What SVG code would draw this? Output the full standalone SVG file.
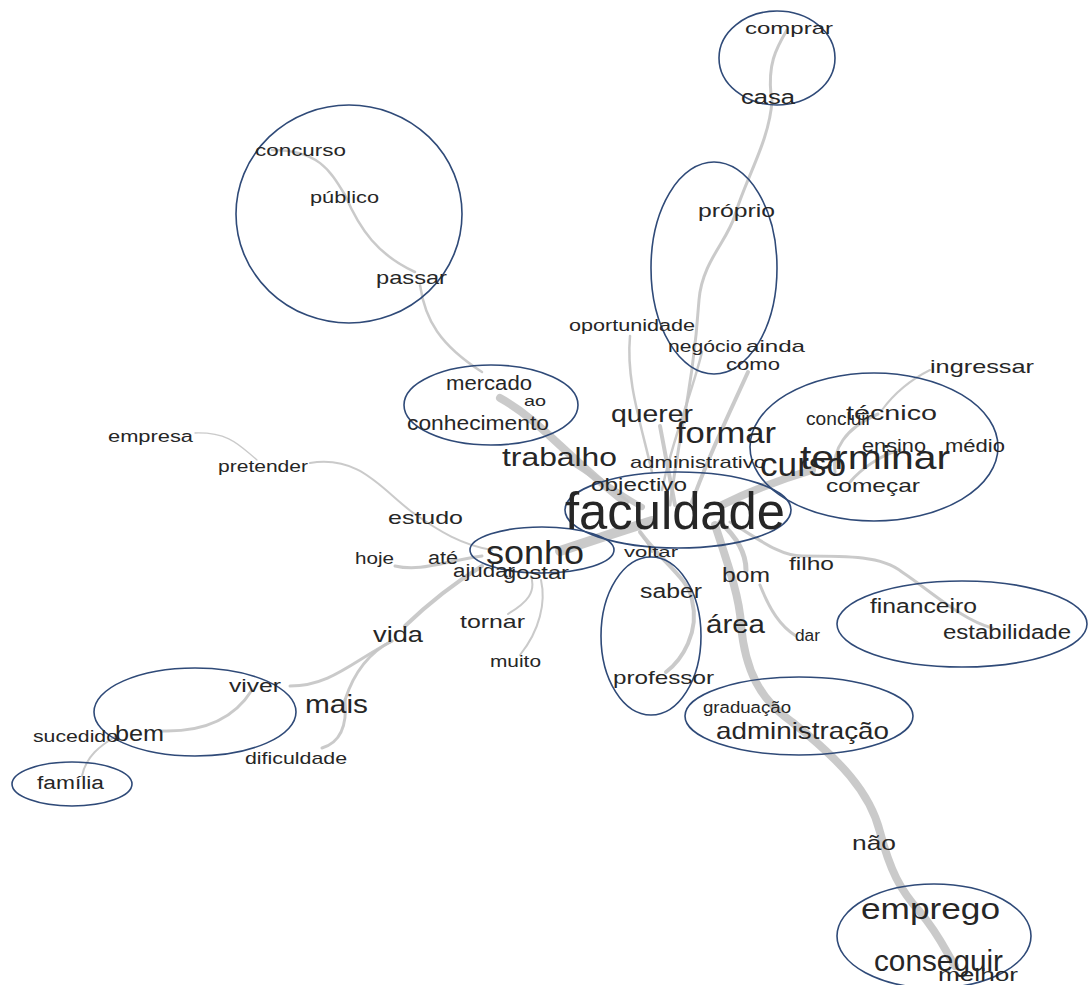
<svg xmlns="http://www.w3.org/2000/svg" width="1088" height="985" viewBox="0 0 1088 985">
<style>
.e{fill:none;stroke:#c4c4c4;stroke-linecap:round;stroke-linejoin:round;opacity:0.9}
.c{fill:none;stroke:#2f4a78;stroke-width:1.6}
text{font-family:"Liberation Sans",Arial,sans-serif;fill:#262626}
</style>
<rect width="1088" height="985" fill="#ffffff"/>
<g id="connectors">
<path class="e" stroke-width="3" d="M787,30 C775,50 768,65 771,95"/>
<path class="e" stroke-width="3" d="M772,100 C770,140 745,180 735,215 C728,240 702,262 699,300 C696,345 690,390 680,440 C675,470 672,490 670,505"/>
<path class="e" stroke-width="2.5" d="M272,150 C318,150 330,170 345,195 C360,230 378,255 415,272"/>
<path class="e" stroke-width="2.5" d="M420,285 C425,320 440,345 482,372"/>
<path class="e" stroke-width="8" d="M500,398 C540,420 565,455 625,502"/>
<path class="e" stroke-width="2.5" d="M630,336 C626,380 640,420 652,472"/>
<path class="e" stroke-width="2.5" d="M702,352 C690,400 672,440 662,490"/>
<path class="e" stroke-width="4" d="M748,372 C730,412 710,452 692,502"/>
<path class="e" stroke-width="2" d="M930,370 C910,380 893,395 882,410"/>
<path class="e" stroke-width="3" d="M878,414 C845,428 832,450 835,472"/>
<path class="e" stroke-width="3" d="M900,450 C880,455 860,470 850,482"/>
<path class="e" stroke-width="8" d="M812,470 C772,482 742,495 722,505"/>
<path class="e" stroke-width="4" d="M660,426 C665,452 670,480 675,505"/>
<path class="e" stroke-width="6" d="M572,462 C600,480 620,495 642,507"/>
<path class="e" stroke-width="1.3" d="M195,433 C230,432 240,446 257,460"/>
<path class="e" stroke-width="2" d="M310,463 C360,455 382,490 412,512 C440,532 462,545 492,550"/>
<path class="e" stroke-width="3" d="M395,566 C420,572 442,562 482,556"/>
<path class="e" stroke-width="10" d="M560,551 C590,541 620,531 652,521"/>
<path class="e" stroke-width="4" d="M405,626 C430,602 456,582 482,566"/>
<path class="e" stroke-width="2" d="M508,614 C528,602 536,592 531,576"/>
<path class="e" stroke-width="2" d="M520,655 C540,630 546,602 541,580"/>
<path class="e" stroke-width="3" d="M290,686 C330,686 352,662 392,641"/>
<path class="e" stroke-width="3" d="M345,700 C354,672 370,652 392,641"/>
<path class="e" stroke-width="3" d="M322,748 C342,742 347,722 345,700"/>
<path class="e" stroke-width="3" d="M162,731 C200,732 232,722 252,690"/>
<path class="e" stroke-width="2" d="M82,776 C86,756 100,746 116,736"/>
<path class="e" stroke-width="4" d="M640,532 C660,560 690,580 692,600 C700,632 682,660 666,672"/>
<path class="e" stroke-width="8" d="M715,525 C730,570 740,600 741,625 C745,670 760,700 792,722 C840,760 870,792 880,832 C890,870 900,890 920,912 C940,936 946,952 955,966"/>
<path class="e" stroke-width="5" d="M720,522 C740,540 746,555 746,570"/>
<path class="e" stroke-width="3" d="M730,522 C760,540 780,556 802,556 C850,556 882,556 902,572 C932,592 962,620 992,628"/>
<path class="e" stroke-width="3" d="M760,585 C770,610 780,626 796,636"/>
<path class="e" stroke-width="2" d="M640,532 C645,540 650,546 652,552"/>
</g>
<g id="clusters">
<ellipse class="c" cx="777" cy="58" rx="58" ry="47"/>
<ellipse class="c" cx="349" cy="214" rx="113" ry="109"/>
<ellipse class="c" cx="714" cy="268" rx="63" ry="106"/>
<ellipse class="c" cx="491" cy="405" rx="87" ry="40"/>
<ellipse class="c" cx="874" cy="447" rx="124" ry="74"/>
<ellipse class="c" cx="678" cy="510" rx="113" ry="38"/>
<ellipse class="c" cx="542" cy="550" rx="72" ry="23"/>
<ellipse class="c" cx="651" cy="636" rx="50" ry="79"/>
<ellipse class="c" cx="962" cy="624" rx="125" ry="43"/>
<ellipse class="c" cx="195" cy="712" rx="101" ry="44"/>
<ellipse class="c" cx="72" cy="784" rx="60" ry="22"/>
<ellipse class="c" cx="799" cy="716" rx="114" ry="39"/>
<ellipse class="c" cx="934" cy="936" rx="97" ry="52"/>
</g>
<g id="n-comprar"><text x="745" y="34" font-size="17" textLength="88" lengthAdjust="spacingAndGlyphs">comprar</text></g>
<g id="n-casa"><text x="741" y="104" font-size="20" textLength="54" lengthAdjust="spacingAndGlyphs">casa</text></g>
<g id="n-concurso"><text x="255" y="156" font-size="17" textLength="91" lengthAdjust="spacingAndGlyphs">concurso</text></g>
<g id="n-publico"><text x="310" y="203" font-size="17" textLength="69" lengthAdjust="spacingAndGlyphs">público</text></g>
<g id="n-passar"><text x="376" y="284" font-size="19" textLength="71" lengthAdjust="spacingAndGlyphs">passar</text></g>
<g id="n-proprio"><text x="698" y="217" font-size="19" textLength="77" lengthAdjust="spacingAndGlyphs">próprio</text></g>
<g id="n-oportunidade"><text x="569" y="331" font-size="16" textLength="126" lengthAdjust="spacingAndGlyphs">oportunidade</text></g>
<g id="n-negocio"><text x="668" y="352" font-size="17" textLength="74" lengthAdjust="spacingAndGlyphs">negócio</text></g>
<g id="n-ainda"><text x="746" y="352" font-size="17" textLength="59" lengthAdjust="spacingAndGlyphs">ainda</text></g>
<g id="n-como"><text x="726" y="370" font-size="17" textLength="54" lengthAdjust="spacingAndGlyphs">como</text></g>
<g id="n-mercado"><text x="446" y="390" font-size="20" textLength="86" lengthAdjust="spacingAndGlyphs">mercado</text></g>
<g id="n-ao"><text x="524" y="406" font-size="15" textLength="22" lengthAdjust="spacingAndGlyphs">ao</text></g>
<g id="n-conhecimento"><text x="407" y="430" font-size="20" textLength="142" lengthAdjust="spacingAndGlyphs">conhecimento</text></g>
<g id="n-querer"><text x="611" y="422" font-size="24" textLength="82" lengthAdjust="spacingAndGlyphs">querer</text></g>
<g id="n-formar"><text x="676" y="443" font-size="30" textLength="100" lengthAdjust="spacingAndGlyphs">formar</text></g>
<g id="n-ingressar"><text x="930" y="373" font-size="19" textLength="104" lengthAdjust="spacingAndGlyphs">ingressar</text></g>
<g id="n-concluir"><text x="806" y="425" font-size="19" textLength="66" lengthAdjust="spacingAndGlyphs">concluir</text></g>
<g id="n-tecnico"><text x="846" y="420" font-size="20" textLength="91" lengthAdjust="spacingAndGlyphs">técnico</text></g>
<g id="n-ensino"><text x="862" y="452" font-size="18" textLength="64" lengthAdjust="spacingAndGlyphs">ensino</text></g>
<g id="n-medio"><text x="945" y="452" font-size="18" textLength="60" lengthAdjust="spacingAndGlyphs">médio</text></g>
<g id="n-terminar"><text x="800" y="469" font-size="33" textLength="150" lengthAdjust="spacingAndGlyphs">terminar</text></g>
<g id="n-curso"><text x="760" y="476" font-size="34" textLength="86" lengthAdjust="spacingAndGlyphs">curso</text></g>
<g id="n-comecar"><text x="826" y="492" font-size="19" textLength="94" lengthAdjust="spacingAndGlyphs">começar</text></g>
<g id="n-empresa"><text x="108" y="442" font-size="16" textLength="85" lengthAdjust="spacingAndGlyphs">empresa</text></g>
<g id="n-pretender"><text x="218" y="472" font-size="16" textLength="90" lengthAdjust="spacingAndGlyphs">pretender</text></g>
<g id="n-trabalho"><text x="502" y="466" font-size="25" textLength="115" lengthAdjust="spacingAndGlyphs">trabalho</text></g>
<g id="n-administrativo"><text x="630" y="468" font-size="17" textLength="136" lengthAdjust="spacingAndGlyphs">administrativo</text></g>
<g id="n-objectivo"><text x="591" y="491" font-size="18" textLength="96" lengthAdjust="spacingAndGlyphs">objectivo</text></g>
<g id="n-faculdade"><text x="565" y="529" font-size="52" textLength="220" lengthAdjust="spacingAndGlyphs" fill="#161616">faculdade</text></g>
<g id="n-estudo"><text x="388" y="524" font-size="19" textLength="75" lengthAdjust="spacingAndGlyphs">estudo</text></g>
<g id="n-hoje"><text x="355" y="564" font-size="17" textLength="39" lengthAdjust="spacingAndGlyphs">hoje</text></g>
<g id="n-ate"><text x="428" y="564" font-size="18" textLength="30" lengthAdjust="spacingAndGlyphs">até</text></g>
<g id="n-sonho"><text x="486" y="564" font-size="34" textLength="98" lengthAdjust="spacingAndGlyphs">sonho</text></g>
<g id="n-ajudar"><text x="453" y="577" font-size="18" textLength="62" lengthAdjust="spacingAndGlyphs">ajudar</text></g>
<g id="n-gostar"><text x="503" y="579" font-size="19" textLength="66" lengthAdjust="spacingAndGlyphs">gostar</text></g>
<g id="n-voltar"><text x="624" y="557" font-size="15" textLength="54" lengthAdjust="spacingAndGlyphs">voltar</text></g>
<g id="n-bom"><text x="722" y="582" font-size="20" textLength="48" lengthAdjust="spacingAndGlyphs">bom</text></g>
<g id="n-filho"><text x="789" y="570" font-size="18" textLength="45" lengthAdjust="spacingAndGlyphs">filho</text></g>
<g id="n-saber"><text x="640" y="598" font-size="20" textLength="62" lengthAdjust="spacingAndGlyphs">saber</text></g>
<g id="n-area"><text x="706" y="633" font-size="26" textLength="59" lengthAdjust="spacingAndGlyphs">área</text></g>
<g id="n-dar"><text x="795" y="641" font-size="16" textLength="25" lengthAdjust="spacingAndGlyphs">dar</text></g>
<g id="n-financeiro"><text x="870" y="613" font-size="20" textLength="107" lengthAdjust="spacingAndGlyphs">financeiro</text></g>
<g id="n-estabilidade"><text x="943" y="639" font-size="20" textLength="128" lengthAdjust="spacingAndGlyphs">estabilidade</text></g>
<g id="n-tornar"><text x="460" y="628" font-size="19" textLength="65" lengthAdjust="spacingAndGlyphs">tornar</text></g>
<g id="n-vida"><text x="373" y="642" font-size="22" textLength="50" lengthAdjust="spacingAndGlyphs">vida</text></g>
<g id="n-muito"><text x="490" y="667" font-size="16" textLength="51" lengthAdjust="spacingAndGlyphs">muito</text></g>
<g id="n-professor"><text x="613" y="684" font-size="19" textLength="101" lengthAdjust="spacingAndGlyphs">professor</text></g>
<g id="n-viver"><text x="229" y="692" font-size="19" textLength="52" lengthAdjust="spacingAndGlyphs">viver</text></g>
<g id="n-mais"><text x="305" y="713" font-size="25" textLength="63" lengthAdjust="spacingAndGlyphs">mais</text></g>
<g id="n-graduacao"><text x="703" y="713" font-size="16" textLength="88" lengthAdjust="spacingAndGlyphs">graduação</text></g>
<g id="n-administracao"><text x="716" y="739" font-size="24" textLength="173" lengthAdjust="spacingAndGlyphs">administração</text></g>
<g id="n-sucedido"><text x="33" y="742" font-size="17" textLength="85" lengthAdjust="spacingAndGlyphs">sucedido</text></g>
<g id="n-bem"><text x="115" y="741" font-size="22" textLength="49" lengthAdjust="spacingAndGlyphs">bem</text></g>
<g id="n-dificuldade"><text x="245" y="764" font-size="17" textLength="102" lengthAdjust="spacingAndGlyphs">dificuldade</text></g>
<g id="n-familia"><text x="37" y="789" font-size="18" textLength="67" lengthAdjust="spacingAndGlyphs">família</text></g>
<g id="n-nao"><text x="852" y="850" font-size="21" textLength="44" lengthAdjust="spacingAndGlyphs">não</text></g>
<g id="n-emprego"><text x="861" y="919" font-size="30" textLength="139" lengthAdjust="spacingAndGlyphs">emprego</text></g>
<g id="n-melhor"><text x="938" y="981" font-size="18" textLength="80" lengthAdjust="spacingAndGlyphs" fill="#555">melhor</text></g>
<g id="n-conseguir"><text x="874" y="971" font-size="29" textLength="129" lengthAdjust="spacingAndGlyphs">conseguir</text></g>
</svg>
